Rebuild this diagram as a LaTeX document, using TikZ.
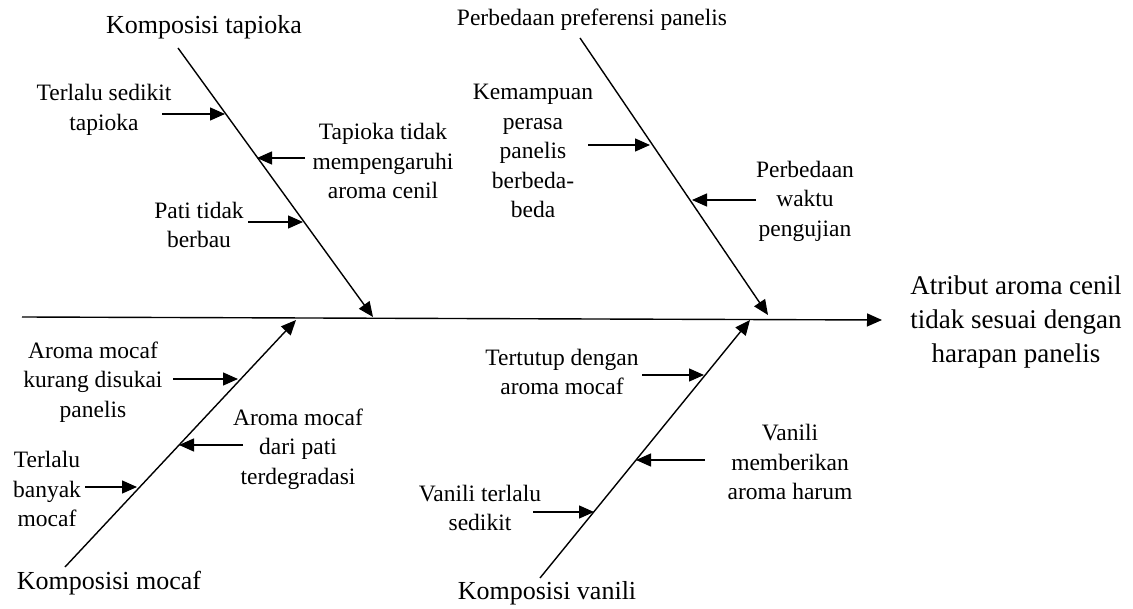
\documentclass[tikz,border=0pt]{standalone}
\usepackage{fontspec}
\setmainfont{Liberation Serif}
\usetikzlibrary{arrows.meta}
\begin{document}
\begin{tikzpicture}[x=1pt,y=-1pt,
  bone/.style={line width=1.4pt},
  arr/.style={line width=1.4pt,-{Triangle[length=15pt,width=13pt]}},
  small/.style={align=center,inner sep=0pt,font=\fontsize{23.5}{29.5}\selectfont},
  big/.style={align=center,inner sep=0pt,font=\fontsize{26}{32}\selectfont},
  head/.style={align=center,inner sep=0pt,font=\fontsize{27}{34}\selectfont}]
\useasboundingbox (0,0) rectangle (1133,609);
% spine
\coordinate (s0) at (22,317);
\coordinate (s1) at (882,320);
\draw[arr] (s0) -- (s1);
\node[head] (effect) at (1016,322) {Atribut aroma cenil\\tidak sesuai dengan\\harapan panelis};
% main bones
\node[big] (tap) at (204,27) {Komposisi tapioka};
\coordinate (t0) at (178,48);
\coordinate (t1) at (373,317);
\draw[arr] (t0) -- (t1);
\node[small] (pref) at (592,20) {Perbedaan preferensi panelis};
\coordinate (p0) at (580,38);
\coordinate (p1) at (768,315);
\draw[arr] (p0) -- (p1);
\node[big] (moc) at (109,583) {Komposisi mocaf};
\coordinate (m0) at (65,567);
\coordinate (m1) at (296,320);
\draw[arr] (m0) -- (m1);
\node[big] (van) at (547,593) {Komposisi vanili};
\coordinate (v0) at (540,578);
\coordinate (v1) at (750,320);
\draw[arr] (v0) -- (v1);
% tapioka causes
\node[small] (ta) at (104,110) {Terlalu sedikit\\tapioka};
\coordinate (ta0) at (162,114); \coordinate (ta1) at (225,114);
\draw[arr] (ta0) -- (ta1);
\node[small] (tb) at (383,161) {Tapioka tidak\\mempengaruhi\\aroma cenil};
\coordinate (tb0) at (305,158); \coordinate (tb1) at (257,158);
\draw[arr] (tb0) -- (tb1);
\node[small] (tc) at (199,225) {Pati tidak\\berbau};
\coordinate (tc0) at (248,222); \coordinate (tc1) at (303,222);
\draw[arr] (tc0) -- (tc1);
% preferensi causes
\node[small] (pa) at (533,151) {Kemampuan\\perasa\\panelis\\berbeda-\\beda};
\coordinate (pa0) at (588,145); \coordinate (pa1) at (650,145);
\draw[arr] (pa0) -- (pa1);
\node[small] (pb) at (805,201) {Perbedaan\\waktu\\pengujian};
\coordinate (pb0) at (756,200); \coordinate (pb1) at (692,200);
\draw[arr] (pb0) -- (pb1);
% mocaf causes
\node[small] (ma) at (93,382) {Aroma mocaf\\kurang disukai\\panelis};
\coordinate (ma0) at (173,379); \coordinate (ma1) at (238,379);
\draw[arr] (ma0) -- (ma1);
\node[small] (mb) at (298,449) {Aroma mocaf\\dari pati\\terdegradasi};
\coordinate (mb0) at (243,445); \coordinate (mb1) at (179,445);
\draw[arr] (mb0) -- (mb1);
\node[small] (mc) at (47,489) {Terlalu\\banyak\\mocaf};
\coordinate (mc0) at (85,487); \coordinate (mc1) at (137,487);
\draw[arr] (mc0) -- (mc1);
% vanili causes
\node[small] (va) at (562,372) {Tertutup dengan\\aroma mocaf};
\coordinate (va0) at (642,375); \coordinate (va1) at (704,375);
\draw[arr] (va0) -- (va1);
\node[small] (vb) at (790,462) {Vanili\\memberikan\\aroma harum};
\coordinate (vb0) at (705,460); \coordinate (vb1) at (636,460);
\draw[arr] (vb0) -- (vb1);
\node[small] (vc) at (480,508) {Vanili terlalu\\sedikit};
\coordinate (vc0) at (533,512); \coordinate (vc1) at (594,512);
\draw[arr] (vc0) -- (vc1);
\end{tikzpicture}
\end{document}
